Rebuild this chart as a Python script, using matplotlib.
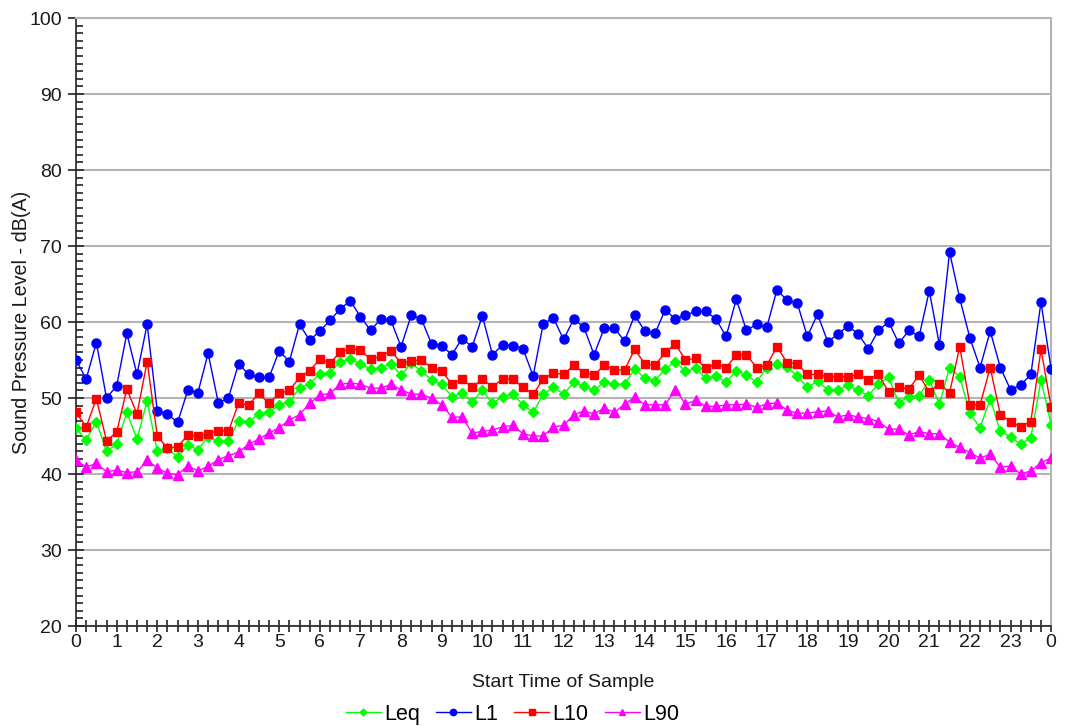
import matplotlib
matplotlib.use("Agg")
import matplotlib.pyplot as plt
from matplotlib.ticker import MultipleLocator, FixedLocator, FixedFormatter

plt.rcParams['font.family'] = ['Liberation Sans', 'DejaVu Sans']

# Sample start times (hours, every 15 minutes over 24 h)
times = [i * 0.25 for i in range(97)]
hour_labels = [str(h) for h in range(24)] + ['0']

leq = [46.0, 44.5, 46.9, 43.0, 43.9, 48.1, 44.6, 49.6, 43.0, 43.4, 42.2, 43.8, 43.2, 44.9, 44.3, 44.3,
       47.0, 46.9, 47.9, 48.1, 49.1, 49.5, 51.3, 51.9, 53.2, 53.3, 54.8, 55.1, 54.5, 53.8, 54.0, 54.5,
       53.0, 54.6, 53.5, 52.4, 51.8, 50.2, 50.6, 49.5, 51.0, 49.3, 50.2, 50.5, 49.1, 48.1, 50.5, 51.4,
       50.5, 52.1, 51.6, 51.0, 52.1, 51.8, 51.8, 53.8, 52.6, 52.3, 53.8, 54.8, 53.5, 53.9, 52.6, 52.9,
       52.1, 53.6, 53.0, 52.1, 54.0, 54.5, 54.1, 52.9, 51.4, 52.2, 51.1, 51.0, 51.7, 51.0, 50.3, 51.9,
       52.7, 49.4, 50.2, 50.3, 52.4, 49.2, 54.0, 52.8, 48.0, 46.1, 49.9, 45.6, 44.9, 43.9, 44.8, 52.4,
       46.5]

l1 = [55.0, 52.5, 57.3, 50.0, 51.6, 58.5, 53.1, 59.7, 48.3, 47.9, 46.8, 51.0, 50.7, 55.9, 49.4, 50.0,
      54.5, 53.1, 52.7, 52.7, 56.2, 54.8, 59.7, 57.6, 58.8, 60.2, 61.7, 62.8, 60.7, 58.9, 60.4, 60.2,
      56.75, 60.9, 60.4, 57.1, 56.9, 55.7, 57.8, 56.75, 60.8, 55.7, 57.0, 56.9, 56.5, 52.9, 59.8, 60.5,
      57.7, 60.4, 59.3, 55.7, 59.2, 59.2, 57.5, 60.9, 58.8, 58.5, 61.6, 60.4, 60.9, 61.4, 61.4, 60.4,
      58.1, 63.0, 58.9, 59.7, 59.3, 64.2, 62.9, 62.5, 58.1, 61.05, 57.4, 58.4, 59.5, 58.4, 56.5, 58.9,
      60.0, 57.2, 58.9, 58.1, 64.1, 57.0, 69.2, 63.1, 57.9, 54.0, 58.8, 54.0, 51.1, 51.7, 53.1, 62.6,
      53.8]

l10 = [48.1, 46.2, 49.9, 44.4, 45.5, 51.2, 47.9, 54.8, 45.0, 43.4, 43.6, 45.1, 45.0, 45.3, 45.7, 45.6,
       49.3, 49.1, 50.6, 49.3, 50.6, 51.0, 52.7, 53.6, 55.1, 54.6, 56.0, 56.5, 56.3, 55.1, 55.5, 56.2,
       54.6, 54.9, 55.0, 54.0, 53.6, 51.8, 52.5, 51.4, 52.5, 51.5, 52.5, 52.5, 51.4, 50.5, 52.5, 53.3,
       53.1, 54.3, 53.3, 53.0, 54.3, 53.7, 53.7, 56.4, 54.5, 54.3, 56.0, 57.1, 55.0, 55.2, 53.9, 54.5,
       54.0, 55.7, 55.7, 54.0, 54.3, 56.75, 54.65, 54.5, 53.1, 53.1, 52.8, 52.8, 52.8, 53.1, 52.4, 53.1,
       50.8, 51.4, 51.2, 53.0, 50.8, 51.9, 50.7, 56.75, 49.1, 49.1, 54.0, 47.8, 46.9, 46.2, 46.9, 56.4,
       48.8]

l90 = [41.8, 40.9, 41.4, 40.3, 40.5, 40.2, 40.3, 41.8, 40.8, 40.1, 39.9, 41.1, 40.4, 41.0, 41.9, 42.4,
       42.9, 43.9, 44.6, 45.4, 46.1, 47.1, 47.8, 49.3, 50.4, 50.6, 51.8, 52.0, 51.8, 51.3, 51.3, 51.8,
       51.1, 50.5, 50.5, 50.0, 49.1, 47.5, 47.5, 45.4, 45.6, 45.8, 46.2, 46.4, 45.3, 45.0, 45.0, 46.2,
       46.4, 47.8, 48.3, 47.9, 48.7, 48.1, 49.2, 50.1, 49.1, 49.1, 49.1, 51.1, 49.2, 49.7, 48.9, 48.9,
       49.1, 49.1, 49.2, 48.8, 49.2, 49.4, 48.4, 48.0, 48.0, 48.2, 48.3, 47.5, 47.8, 47.5, 47.3, 46.9,
       45.9, 45.9, 45.1, 45.6, 45.3, 45.3, 44.2, 43.5, 42.8, 42.1, 42.6, 40.9, 41.05, 40.0, 40.4, 41.5,
       42.1]

fig = plt.figure(figsize=(10.65, 7.26), dpi=100)
ax = fig.add_axes([0.0714, 0.1377, 0.9156, 0.8375])

ax.plot(times, leq, color='#00ff00', lw=1, marker='D', ms=5, label='Leq', zorder=3)
ax.plot(times, l1, color='#0000ff', lw=1, marker='o', ms=6.5, label='L1', zorder=3)
ax.plot(times, l10, color='#ff0000', lw=1, marker='s', ms=6, label='L10', zorder=3)
ax.plot(times, l90, color='#ff00ff', lw=1, marker='^', ms=6.5, label='L90', zorder=3)

ax.set_xlim(0, 24)
ax.set_ylim(20, 100)
ax.yaxis.set_major_locator(MultipleLocator(10))
ax.yaxis.set_minor_locator(MultipleLocator(1))
ax.xaxis.set_major_locator(FixedLocator(list(range(25))))
ax.xaxis.set_major_formatter(FixedFormatter(hour_labels))
ax.xaxis.set_minor_locator(MultipleLocator(0.25))

ax.grid(axis='y', which='major', color='#b4b4b4', lw=1.5, zorder=1)
for s in ['top', 'right']:
    ax.spines[s].set_color('#b4b4b4')
    ax.spines[s].set_linewidth(1.5)
for s in ['left', 'bottom']:
    ax.spines[s].set_color('#222222')
    ax.spines[s].set_linewidth(1.2)

ax.tick_params(axis='y', which='major', direction='inout', length=12, width=1.2, colors='#222222', labelsize=14, pad=4)
ax.tick_params(axis='y', which='minor', direction='in', length=5, width=1.2, colors='#222222')
ax.tick_params(axis='x', which='major', direction='inout', length=9, width=1.2, colors='#222222', labelsize=14, pad=1)
ax.tick_params(axis='x', which='minor', direction='inout', length=9, width=1.2, colors='#222222')
for lab in ax.get_xticklabels() + ax.get_yticklabels():
    lab.set_color('#1a1a1a')

ax.set_xlabel('Start Time of Sample', fontsize=14, labelpad=17, color='#1a1a1a')
ax.set_ylabel('Sound Pressure Level - dB(A)', fontsize=14.2, color='#1a1a1a')
ax.yaxis.set_label_coords(-0.046, 0.5)

leg = fig.legend(loc='center', bbox_to_anchor=(0.481, 0.016), ncol=4, frameon=False,
                 fontsize=15.5, markerscale=0.7, handlelength=1.63, handletextpad=0.15, columnspacing=0.75)

fig.savefig('out.png', dpi=100)
